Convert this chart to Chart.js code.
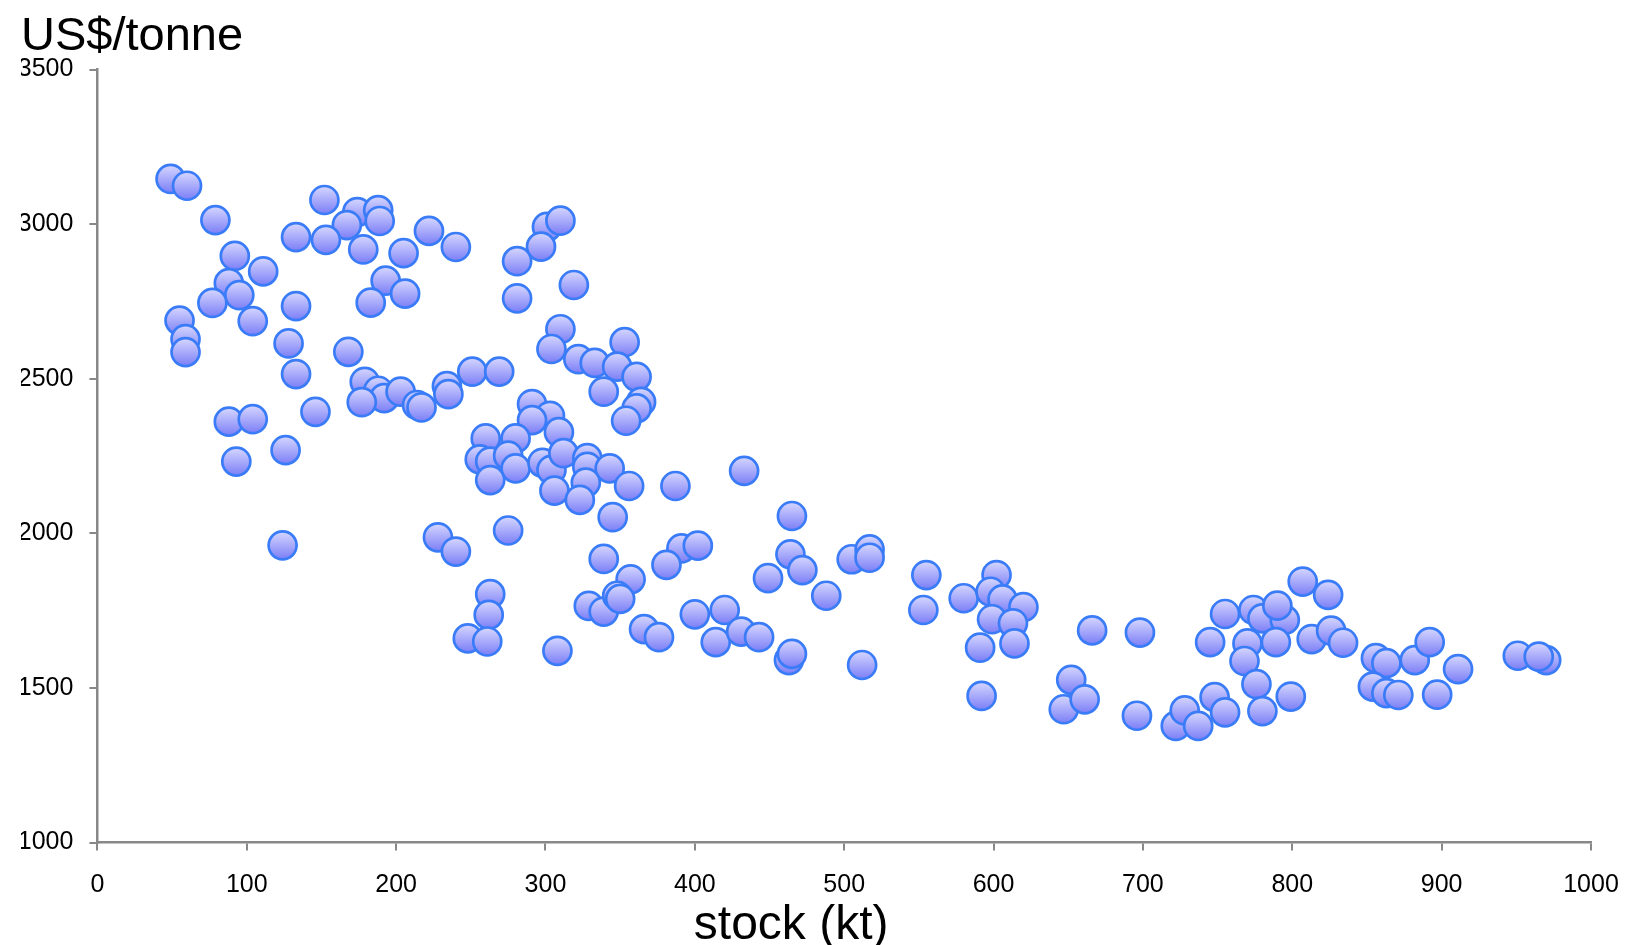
<!DOCTYPE html>
<html>
<head>
<meta charset="utf-8">
<script src="https://cdn.jsdelivr.net/npm/chart.js@4.4.1/dist/chart.umd.min.js"></script>
<style>
  html, body { margin: 0; padding: 0; background: #fff; }
  #wrap { width: 1625px; height: 945px; }
</style>
</head>
<body>
<div id="wrap"><canvas id="grafico"></canvas></div>
<script>
// stock (kt) vs price (US$/tonne)
const stock = [
  49, 60, 79, 152, 174, 188, 167, 189, 133, 153, 178, 222, 240, 205, 92, 111, 88, 95, 77, 55, 59, 59,
  104, 133, 193, 206, 183, 128, 133, 168, 179, 188, 192, 177, 203, 214, 217, 234, 235, 251, 146, 88, 104,
  126, 93, 124, 228, 240, 248,
  301, 310, 297, 281, 319, 281, 310, 304, 322, 333, 353, 348, 361, 339, 364, 361, 354, 269, 291, 303, 291, 309, 260, 280,
  256, 263, 275, 280, 263, 298, 304, 312, 306, 328, 328, 343, 327, 323, 356, 345, 387, 433, 275,
  339, 357, 391, 402, 381, 465, 464, 472, 449, 263, 262, 261, 308, 329, 339, 348, 350, 366, 376,
  400, 420, 414, 431, 443, 463, 465,
  488, 505, 517, 517, 555, 553, 580, 602, 598, 606, 620, 599, 613, 614, 591, 666, 698, 512, 592,
  652, 647, 661, 696, 722, 728,
  737, 748, 755, 745, 755, 774, 770, 768, 780, 795, 790, 789, 776, 780, 799, 807, 824, 813, 826, 834,
  856, 863, 882, 892, 911, 854, 863, 871, 897, 951, 970, 965
];
const price = [
  3146, 3124, 3013, 3078, 3039, 3045, 2997, 3010, 2958, 2949, 2918, 2978, 2926, 2906, 2897, 2847, 2809, 2770, 2745, 2688, 2628, 2586,
  2686, 2735, 2817, 2775, 2746, 2614, 2515, 2587, 2490, 2461, 2437, 2424, 2458, 2415, 2407, 2476, 2450, 2523, 2393, 2361, 2369,
  2269, 2232, 1961, 1987, 1941, 1660,
  2991, 3011, 2927, 2880, 2803, 2760, 2660, 2596, 2563, 2551, 2618, 2539, 2506, 2458, 2425, 2404, 2364, 2523, 2418, 2380, 2366, 2327, 2307, 2307,
  2239, 2232, 2251, 2210, 2172, 2228, 2205, 2259, 2138, 2243, 2215, 2210, 2164, 2108, 2153, 2052, 2153, 2202, 2009,
  1917, 1851, 1951, 1960, 1898, 2056, 1932, 1881, 1855, 1803, 1736, 1650, 1620, 1765, 1747, 1798, 1788, 1690, 1664,
  1738, 1752, 1648, 1682, 1664, 1590, 1610,
  1798, 1916, 1948, 1921, 1865, 1752, 1790, 1865, 1811, 1786, 1761, 1722, 1709, 1644, 1630, 1686, 1679, 1574, 1474,
  1526, 1431, 1463, 1410, 1377, 1427,
  1377, 1470, 1421, 1648, 1739, 1752, 1644, 1587, 1725, 1720, 1766, 1648, 1512, 1425, 1472, 1844, 1801, 1658, 1685, 1646,
  1596, 1580, 1590, 1648, 1561, 1504, 1483, 1477, 1478, 1604, 1590, 1601
];
const xTicks = [0, 100, 200, 300, 400, 500, 600, 700, 800, 900, 1000];
const yTicks = [1000, 1500, 2000, 2500, 3000, 3500];
const yTitle = "US$/tonne";
const xTitle = "stock (kt)";

const puntos = stock.map((s, i) => ({ x: s, y: price[i] }));

const RADIO = 14;
const fuente = '"Liberation Sans", Arial, sans-serif';

// gradient fill for each bubble, from light lavender on top to deeper violet-blue
function relleno(ctx) {
  const chart = ctx.chart;
  if (!chart.chartArea || !ctx.parsed) return "#a9aaff";
  const y = chart.scales.y.getPixelForValue(ctx.parsed.y);
  const g = chart.ctx.createLinearGradient(0, y - RADIO, 0, y + RADIO);
  g.addColorStop(0, "#d6d7ff");
  g.addColorStop(1, "#7b7ef6");
  return g;
}

// x axis title sits a little left of centre, like the original
const tituloX = {
  id: "tituloX",
  afterDraw(chart) {
    const a = chart.chartArea;
    const c = chart.ctx;
    c.save();
    c.font = "48px " + fuente;
    c.fillStyle = "#000";
    c.textAlign = "center";
    c.textBaseline = "alphabetic";
    c.fillText(xTitle, a.left + (a.right - a.left) * 0.4645, 939);
    c.restore();
  }
};

new Chart(document.getElementById("grafico"), {
  type: "scatter",
  data: {
    datasets: [{
      data: puntos,
      pointRadius: RADIO,
      pointHoverRadius: RADIO,
      borderWidth: 2.7,
      pointBorderColor: "#3a7cf8",
      pointBackgroundColor: relleno,
      clip: false
    }]
  },
  options: {
    responsive: true,
    maintainAspectRatio: false,
    animation: false,
    layout: { padding: { left: 21, right: 34, top: 0, bottom: 0 } },
    plugins: {
      legend: { display: false },
      tooltip: { enabled: false },
      title: {
        display: true,
        text: yTitle,
        align: "start",
        color: "#000",
        font: { family: fuente, size: 47, weight: "normal", lineHeight: 1 },
        padding: { top: 13.5, bottom: 9 }
      }
    },
    scales: {
      x: {
        type: "linear",
        min: 0,
        max: 1000,
        afterBuildTicks: s => { s.ticks = xTicks.map(v => ({ value: v })); },
        afterFit: s => { s.height = 102.5; s.paddingLeft = 0; s.paddingRight = 0; },
        border: { color: "#888", width: 2.5 },
        grid: { drawOnChartArea: false, drawTicks: true, tickLength: 8, color: "#888", lineWidth: 2 },
        ticks: { color: "#000", padding: 20, font: { family: fuente, size: 25 }, callback: v => String(v) }
      },
      y: {
        type: "linear",
        min: 1000,
        max: 3500,
        afterBuildTicks: s => { s.ticks = yTicks.map(v => ({ value: v })); },
        afterFit: s => { s.width = 76.4; },
        border: { color: "#888", width: 2.5 },
        grid: { drawOnChartArea: false, drawTicks: true, tickLength: 8, color: "#888", lineWidth: 2 },
        ticks: { color: "#000", padding: 16, font: { family: fuente, size: 25 }, callback: v => String(v) }
      }
    }
  },
  plugins: [tituloX]
});
</script>
</body>
</html>
